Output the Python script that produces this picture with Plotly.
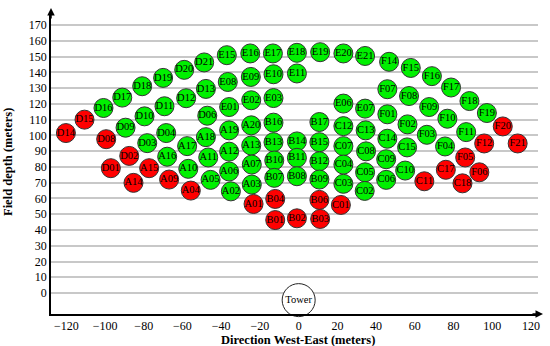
import plotly.graph_objects as go

# ---- data ----
labels = ["D14","D15","D16","D17","D18","D19","D20","D21","D13","D12","D11","D10","D09","D08",
          "D06","D04","D03","D02","D01",
          "A17","A18","A16","A11","A15","A14","A10","A09","A04","A05","A19","A20","A12","A13",
          "A07","A06","A02","A03","A01",
          "E15","E16","E17","E18","E19","E20","E21","E08","E09","E10","E11","E01","E02","E03","E06","E07",
          "B16","B17","C12","C13","B13","B14","B15","C07","B10","B11","B12","B07","B08","B09",
          "B04","B06","B01","B02","B03","C01","C04","C03","C05","C02","C08","C09","C06","C10",
          "C14","C15","C11","C17","C18",
          "F14","F15","F16","F17","F18","F19","F20","F21","F07","F08","F09","F10","F11","F12",
          "F01","F02","F03","F04","F05","F06"]
east_m = [-120.2,-110.6,-100.8,-91.1,-80.8,-70.0,-59.1,-48.8,-47.9,-58.1,-69.3,-79.6,-89.4,-99.4,
          -47.2,-68.4,-78.2,-87.5,-97.0,
          -57.6,-47.9,-67.9,-46.7,-77.2,-85.3,-57.0,-66.9,-55.7,-45.5,-35.9,-24.5,-35.9,-24.5,
          -24.2,-35.9,-35.0,-24.2,-23.3,
          -37.1,-25.0,-13.3,-0.9,11.1,23.1,34.3,-36.6,-24.7,-13.0,-0.9,-35.9,-24.5,-13.0,23.1,34.3,
          -13.0,10.7,23.1,34.6,-13.0,-0.9,10.7,23.1,-12.6,-0.9,10.7,-12.6,-0.9,10.7,
          -12.1,10.7,-12.1,-0.9,11.1,21.8,23.1,23.1,34.3,34.1,34.8,45.2,45.2,55.0,
          45.8,56.0,64.9,76.0,84.6,
          46.7,57.9,68.8,78.7,88.2,97.2,105.4,113.1,45.8,57.0,67.4,76.8,86.5,95.8,
          45.8,56.2,66.2,75.6,86.0,93.3]
depth_m = [101.5,110.0,117.4,124.0,131.2,136.5,141.6,146.3,129.5,123.6,118.5,112.1,104.9,97.6,
           112.5,101.5,95.1,87.0,79.2,
           93.2,98.9,86.5,86.0,79.2,69.9,78.8,72.0,65.0,71.8,103.2,106.4,89.7,93.6,
           81.5,77.1,64.5,68.8,56.5,
           150.9,152.0,152.0,152.4,152.8,152.0,150.4,133.9,137.1,138.8,139.3,118.0,122.3,123.7,120.2,117.0,
           108.1,108.5,105.9,103.2,95.7,96.2,95.7,93.2,84.1,85.8,83.6,73.1,74.1,72.0,
           59.7,59.1,46.3,47.4,47.0,55.9,81.5,69.3,76.6,64.8,89.9,84.9,71.8,77.7,
           97.9,92.4,70.9,78.2,69.6,
           146.7,142.8,137.6,130.4,121.8,114.2,105.7,94.9,129.3,125.0,118.0,110.6,102.1,94.9,
           113.4,107.0,100.4,93.0,86.0,76.6]
red_labels = ["D14","D15","D08","D02","D01","A15","A14","A09","A04","A01","B04","B01","B02","B03",
              "B06","C01","C11","C17","C18","F05","F06","F12","F20","F21"]
x_ticks = [-120,-100,-80,-60,-40,-20,0,20,40,60,80,100,120]
y_ticks = [0,10,20,30,40,50,60,70,80,90,100,110,120,130,140,150,160,170]
tower_pos = (0, -4.5)

SERIF = "Liberation Serif"
colors = ["#ff0000" if lb in red_labels else "#00f000" for lb in labels]

fig = go.Figure()
fig.add_trace(go.Scatter(
    x=[tower_pos[0]], y=[tower_pos[1]], mode="markers+text", text=["Tower"],
    textposition="middle center",
    marker=dict(size=33, color="white", line=dict(color="#222", width=1)),
    textfont=dict(family=SERIF, size=10.5, color="black"), cliponaxis=False, hoverinfo="skip"))
fig.add_trace(go.Scatter(
    x=east_m, y=depth_m, mode="markers+text", text=labels, textposition="middle center",
    marker=dict(size=19, color=colors, line=dict(color="#333", width=1)),
    textfont=dict(family=SERIF, size=10.5, color="black"), cliponaxis=False))

W, H = 550, 346
L, R, T, B = 51, 12, 12, 32
pw, ph = W - L - R, H - T - B

fig.update_layout(
    width=W, height=H, margin=dict(l=L, r=R, t=T, b=B, autoexpand=False),
    plot_bgcolor="white", paper_bgcolor="white", showlegend=False,
    font=dict(family=SERIF, size=12, color="black"),
    xaxis=dict(range=[-127.9, 123.6], tickvals=x_ticks, showgrid=False, zeroline=False,
               showline=True, linecolor="black", linewidth=1.5, ticks="",
               tickfont=dict(family=SERIF, size=12, color="black")),
    yaxis=dict(range=[-13.3, 178.3], tickvals=y_ticks, showgrid=True, gridcolor="#c8c8c8",
               gridwidth=1.5, zeroline=False, showline=True, linecolor="black", linewidth=1.5,
               ticks="", tickfont=dict(family=SERIF, size=12, color="black")),
    annotations=[
        dict(xref="paper", yref="paper", x=1 + 5 / pw, y=0, ax=-12, ay=0, text="",
             showarrow=True, arrowhead=2, arrowsize=1, arrowwidth=1.5, arrowcolor="black"),
        dict(xref="paper", yref="paper", x=0, y=1 + 4 / ph, ax=0, ay=12, text="",
             showarrow=True, arrowhead=2, arrowsize=1, arrowwidth=1.5, arrowcolor="black"),
        dict(xref="paper", yref="paper", x=(298 - L) / pw, y=-(340 - (T + ph)) / ph,
             text="<b>Direction West-East (meters)</b>", showarrow=False,
             font=dict(family=SERIF, size=12.5, color="black"), xanchor="center", yanchor="middle"),
        dict(xref="paper", yref="paper", x=(8 - L) / pw, y=(T + ph - 162) / ph,
             text="<b>Field depth (meters)</b>", showarrow=False, textangle=-90,
             font=dict(family=SERIF, size=12.5, color="black"), xanchor="center", yanchor="middle"),
    ],
)

fig.write_html("out.html", config={"displayModeBar": False},
               post_script="document.body.style.margin='0';document.body.style.padding='0';")
